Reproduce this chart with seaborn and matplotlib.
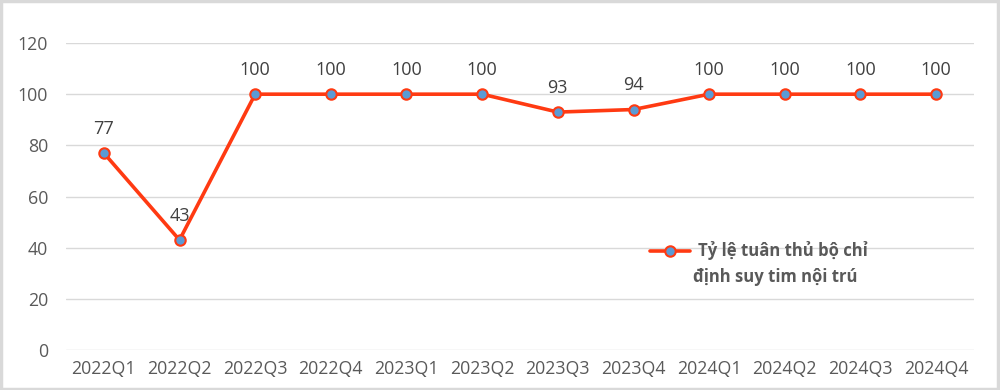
import seaborn as sns
import matplotlib.pyplot as plt
import pandas as pd
from matplotlib.patches import Rectangle

quarters = ['2022Q1', '2022Q2', '2022Q3', '2022Q4', '2023Q1', '2023Q2',
            '2023Q3', '2023Q4', '2024Q1', '2024Q2', '2024Q3', '2024Q4']
rates = [77, 43, 100, 100, 100, 100, 93, 94, 100, 100, 100, 100]
series_name = 'Tỷ lệ tuân thủ bộ chỉ\nđịnh suy tim nội trú'
y_ticks = [0, 20, 40, 60, 80, 100, 120]

df = pd.DataFrame({'quarter': quarters, 'rate': rates})

sns.set_style('white')
plt.rcParams['font.family'] = ['Open Sans', 'DejaVu Sans']

text_color = '#595959'
line_color = '#FF3A12'
marker_color = '#5B9BD5'

fig = plt.figure(figsize=(10, 3.9), dpi=100)
ax = fig.add_axes([0.066, 0.1026, 0.908, 0.7871])

first_line, second_line = series_name.split('\n')

sns.lineplot(data=df, x='quarter', y='rate', ax=ax, color=line_color,
             linewidth=2.6, marker='o', markersize=7.5,
             markerfacecolor=marker_color, markeredgecolor=line_color,
             markeredgewidth=1.5, label=first_line, sort=False)

# data labels above each point
for i, v in enumerate(rates):
    ax.annotate(str(v), (i, v), xytext=(0, 11), textcoords='offset points',
                ha='center', va='bottom', fontsize=13, color='#404040')

ax.set_xlim(-0.5, len(quarters) - 0.5)
ax.set_ylim(0, 120)
ax.set_yticks(y_ticks)
ax.yaxis.grid(True, color='#d9d9d9', linewidth=1)
ax.set_axisbelow(True)
for s in ax.spines.values():
    s.set_visible(False)
ax.tick_params(axis='both', length=0, labelsize=12.8, labelcolor=text_color)
ax.tick_params(axis='y', pad=13)
ax.tick_params(axis='x', pad=7)
ax.set_xlabel('')
ax.set_ylabel('')

# legend: handle on the first line, name wraps onto a second line
leg = ax.legend(loc='center left', bbox_to_anchor=(0.650, 1 - 251 / 390),
                bbox_transform=fig.transFigure, frameon=False,
                handlelength=2.4, handletextpad=0.48, borderaxespad=0,
                borderpad=0, prop={'size': 12, 'weight': 'bold'})
for t in leg.get_texts():
    t.set_color(text_color)
fig.text(0.693, 1 - 277 / 390, second_line, ha='left', va='center',
         fontsize=12, fontweight='bold', color=text_color)

# light frame around the whole chart
fig.patches.append(Rectangle((0.001, 0.002), 0.997, 0.995, transform=fig.transFigure,
                             fill=False, edgecolor='#d9d9d9', linewidth=2.5))

fig.savefig('out.png', dpi=100)
